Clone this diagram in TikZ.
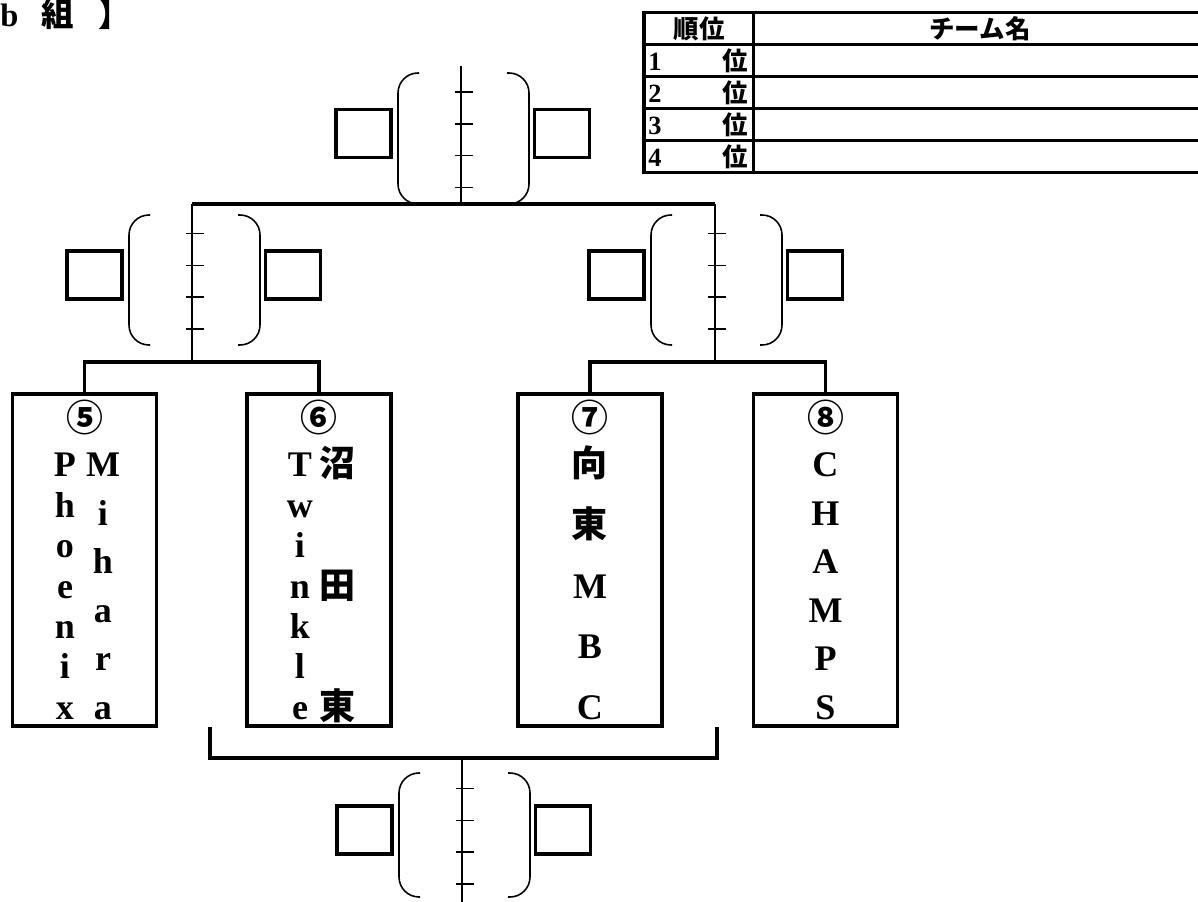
\documentclass[tikz,border=0pt]{standalone}
\usepackage{fontspec}
\setmainfont{Liberation Serif}
\newfontfamily\jpfont{Noto Sans CJK JP}

\begin{document}
\begin{tikzpicture}[
    x=0.02cm, y=-0.02cm,
    bracket/.style={line width=1.8pt},
    stem/.style={line width=0.6pt},
    tick/.style={line width=0.9pt},
    paren/.style={line width=0.9pt, rounded corners=0.4cm},
    slot/.style={draw, line width=1.8pt, minimum width=1.1cm, minimum height=0.96cm, inner sep=0},
    team/.style={draw, line width=1.8pt, minimum width=2.88cm, minimum height=6.64cm, inner sep=0},
    letter/.style={anchor=base, inner sep=0, font=\bfseries\fontsize{20.5}{24}\selectfont},
    jletter/.style={letter, font=\jpfont\bfseries\fontsize{20.5}{24}\selectfont},
    seed/.style={inner sep=0, font=\jpfont\bfseries\fontsize{21}{24}\selectfont},
    cell/.style={anchor=base, inner sep=0, font=\bfseries\fontsize{15}{17}\selectfont},
    jcell/.style={cell, font=\jpfont\bfseries\fontsize{14.5}{17}\selectfont}
  ]
  \useasboundingbox (0,0) rectangle (1198,902);

  % group title
  \node[anchor=base west, inner sep=0, font=\bfseries\fontsize{18.5}{20}\selectfont] (title) at (0,27)
    {b\hspace{0.46cm}{\jpfont 組}\hspace{0.5cm}{\jpfont 】}};

  % ranking table
  \draw[bracket] (644,12.5) rectangle (1207,172.5);
  \foreach \r in {1,...,4}
    \draw[bracket] (644,{12.5+32*\r}) -- (1207,{12.5+32*\r});
  \draw[bracket] (753.5,12.5) -- (753.5,172.5);
  \node[jcell] (head1) at (699,39) {順位};
  \node[jcell] (head2) at (980,39) {チーム名};
  \foreach \r in {1,...,4} {
    \node[cell, anchor=base west] (rank\r) at (648,{39+32*\r}) {\r};
    \node[jcell, anchor=base east] (pos\r) at (748.5,{39+32*\r}) {位};
  }

  % match slots: brackets, score ticks and result boxes
  \foreach \gx/\gy/\gh/\gn in {461/73/131/top, 192/215/130/left, 714/215/130/right, 462/773/124/bot} {
    \begin{scope}[shift={(\gx,\gy)}]
      \draw[paren] (-42,0) -- (-63,0) -- (-63,\gh) -- (-42,\gh);
      \draw[paren] (46,0) -- (68,0) -- (68,\gh) -- (46,\gh);
      \foreach \k in {0,...,3}
        \draw[tick] (-6,{19-(131-\gh)/2+31.8*\k}) -- ++(18,0);
      \node[slot] (\gn-a) at (-97.5,{\gh/2-5}) {};
      \node[slot] (\gn-b) at (101,{\gh/2-5}) {};
    \end{scope}
  }

  % team boxes
  \foreach \n/\tx/\sd in {5/84.5/⑤, 6/319/⑥, 7/590/⑦, 8/825.5/⑧} {
    \node[team] (t\n) at (\tx,560) {};
    \node[seed] (s\n) at (\tx,417) {\sd};
  }

  % team names, spread over the box height
  \foreach \ch [count=\k from 0] in {P,h,o,e,n,i,x}
    \node[letter] (n5a\k) at (65,{477+\k*242/6}) {\ch};
  \foreach \ch [count=\k from 0] in {M,i,h,a,r,a}
    \node[letter] (n5b\k) at (103,{477+\k*242/5}) {\ch};
  \foreach \ch [count=\k from 0] in {T,w,i,n,k,l,e}
    \node[letter] (n6a\k) at (300,{477+\k*242/6}) {\ch};
  \foreach \ch [count=\k from 0] in {沼,田,東}
    \node[jletter] (n6b\k) at (338,{477+\k*242/2}) {\ch};
  \foreach \ch [count=\k from 0] in {{\jpfont 向},{\jpfont 東},M,B,C}
    \node[letter] (n7\k) at (590,{477+\k*242/4}) {\ch};
  \foreach \ch [count=\k from 0] in {C,H,A,M,P,S}
    \node[letter] (n8\k) at (825.5,{477+\k*242/5}) {\ch};

  % bracket lines
  \coordinate (top-stem) at (461,66);
  \coordinate (final) at (461,204);
  \coordinate (left-hub) at (192,204);
  \coordinate (right-hub) at (715,204);
  \coordinate (left-foot) at (192,362);
  \coordinate (right-foot) at (715,362);
  \draw[stem] (top-stem) -- (final);
  \draw[bracket] (left-hub) -- (right-hub);
  \draw[stem] (left-hub) -- (left-foot);
  \draw[stem] (right-hub) -- (right-foot);
  \draw[bracket] (t5.north) |- (left-foot) -| (t6.north);
  \draw[bracket] (t7.north) |- (right-foot) -| (t8.north);

  % third place match
  \coordinate (third-l) at (210,727);
  \coordinate (third-r) at (717,727);
  \coordinate (third-hub) at (462,758);
  \coordinate (third-end) at (462,902);
  \draw[bracket] (third-l) |- (third-hub) -| (third-r);
  \draw[stem] (third-hub) -- (third-end);
\end{tikzpicture}
\end{document}
